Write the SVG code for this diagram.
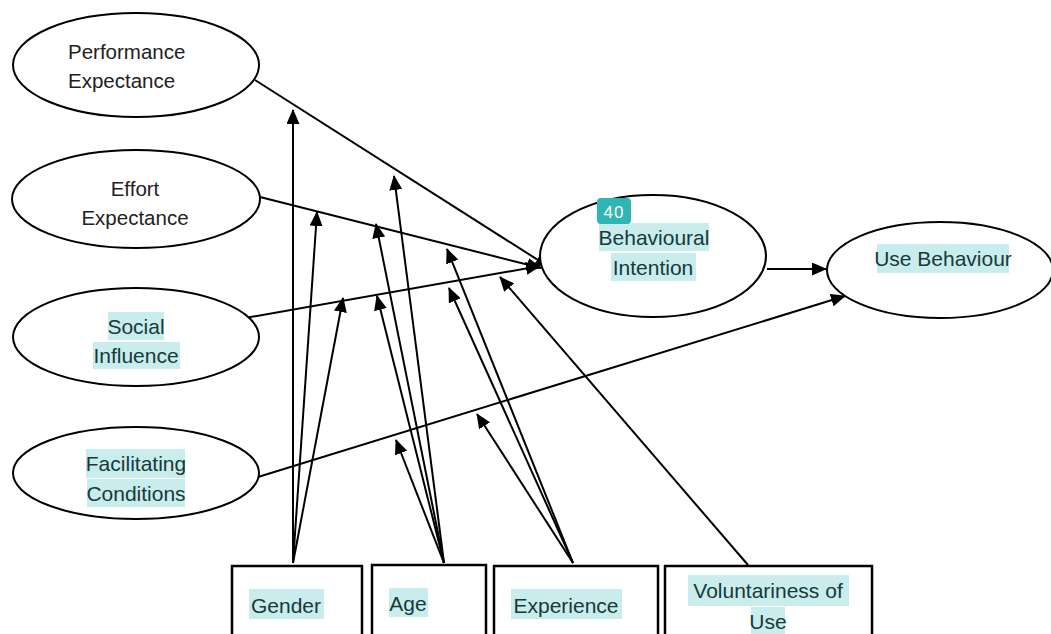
<svg xmlns="http://www.w3.org/2000/svg" width="1051" height="634" viewBox="0 0 1051 634">
<style>
.node{fill:#fff;stroke:#000;stroke-width:2}
.box{fill:#fff;stroke:#000;stroke-width:2.5}
.t{font-family:"Liberation Sans",Arial,sans-serif;font-size:20.5px;fill:#222}
.h{font-family:"Liberation Sans",Arial,sans-serif;font-size:21px;fill:#173a3a}
.hl{fill:#c9ecec}
.c{stroke:#000;stroke-width:2;fill:none;marker-end:url(#ah)}
</style>
<defs>
<marker id="ah" markerUnits="userSpaceOnUse" markerWidth="15" markerHeight="13" viewBox="0 0 15 13" refX="14" refY="6.5" orient="auto">
<path d="M0,0 L15,6.5 L0,13 z" fill="#000"/>
</marker>
</defs>
<rect width="1051" height="634" fill="#fff"/>
<g id="connectors">
<line class="c" x1="255" y1="80" x2="549" y2="267"/>
<line class="c" x1="260" y1="197" x2="541" y2="268"/>
<line class="c" x1="245" y1="318" x2="540" y2="266"/>
<line class="c" x1="258" y1="477" x2="845" y2="296"/>
<line class="c" x1="767" y1="269" x2="826" y2="269"/>
<line class="c" x1="293" y1="563" x2="293" y2="110"/>
<line class="c" x1="293" y1="563" x2="317" y2="212"/>
<line class="c" x1="293" y1="563" x2="343" y2="298"/>
<line class="c" x1="444" y1="563" x2="394" y2="176"/>
<line class="c" x1="444" y1="563" x2="376" y2="224"/>
<line class="c" x1="444" y1="563" x2="377" y2="296"/>
<line class="c" x1="444" y1="563" x2="396" y2="440"/>
<line class="c" x1="573" y1="563" x2="447" y2="249"/>
<line class="c" x1="573" y1="563" x2="449" y2="288"/>
<line class="c" x1="573" y1="563" x2="477" y2="414"/>
<line class="c" x1="748" y1="565" x2="500" y2="277"/>
</g>
<g id="pe">
<ellipse class="node" cx="136" cy="65" rx="123" ry="52"/>
<text class="t" x="68" y="59">Performance</text>
<text class="t" x="68" y="88">Expectance</text>
</g>
<g id="ee">
<ellipse class="node" cx="136" cy="199" rx="124" ry="49"/>
<text class="t" x="135" y="196" text-anchor="middle">Effort</text>
<text class="t" x="135" y="225" text-anchor="middle">Expectance</text>
</g>
<g id="si">
<ellipse class="node" cx="136" cy="337" rx="123" ry="49"/>
<rect class="hl" x="108" y="312" width="56" height="28"/>
<rect class="hl" x="93" y="342" width="87" height="27"/>
<text class="h" x="136" y="334" text-anchor="middle">Social</text>
<text class="h" x="136" y="363" text-anchor="middle">Influence</text>
</g>
<g id="fc">
<ellipse class="node" cx="136" cy="473" rx="123" ry="46"/>
<rect class="hl" x="86" y="449" width="99" height="29"/>
<rect class="hl" x="87" y="479" width="98" height="28"/>
<text class="h" x="136" y="471" text-anchor="middle">Facilitating</text>
<text class="h" x="136" y="501" text-anchor="middle">Conditions</text>
</g>
<g id="bi">
<ellipse class="node" cx="653" cy="256" rx="113" ry="61"/>
<rect class="hl" x="599" y="223" width="110" height="28"/>
<rect class="hl" x="611" y="253" width="85" height="28"/>
<text class="h" x="654" y="245" text-anchor="middle">Behavioural</text>
<text class="h" x="653" y="275" text-anchor="middle">Intention</text>
<rect x="597" y="198" width="34" height="26" rx="4" fill="#2fb6b4"/>
<text x="614" y="218" text-anchor="middle" font-family="'Liberation Sans',Arial,sans-serif" font-size="17" fill="#fff" letter-spacing="1">40</text>
</g>
<g id="ub">
<ellipse class="node" cx="940" cy="270" rx="113" ry="48"/>
<rect class="hl" x="877" y="244" width="132" height="29"/>
<text class="h" x="943" y="266" text-anchor="middle">Use Behaviour</text>
</g>
<g id="gender">
<rect class="box" x="232" y="566" width="130" height="80"/>
<rect class="hl" x="249" y="589" width="75" height="30"/>
<text class="h" x="286" y="613" text-anchor="middle">Gender</text>
</g>
<g id="age">
<rect class="box" x="372" y="565" width="114" height="80"/>
<rect class="hl" x="389" y="588" width="39" height="29"/>
<text class="h" x="408" y="611" text-anchor="middle">Age</text>
</g>
<g id="experience">
<rect class="box" x="494" y="566" width="164" height="80"/>
<rect class="hl" x="511" y="589" width="111" height="30"/>
<text class="h" x="566" y="613" text-anchor="middle">Experience</text>
</g>
<g id="voluntariness">
<rect class="box" x="665" y="566" width="207" height="80"/>
<rect class="hl" x="688" y="575" width="161" height="31"/>
<rect class="hl" x="751" y="607" width="34" height="27"/>
<text class="h" x="768" y="598" text-anchor="middle">Voluntariness of</text>
<text class="h" x="768" y="629" text-anchor="middle">Use</text>
</g>
</svg>
